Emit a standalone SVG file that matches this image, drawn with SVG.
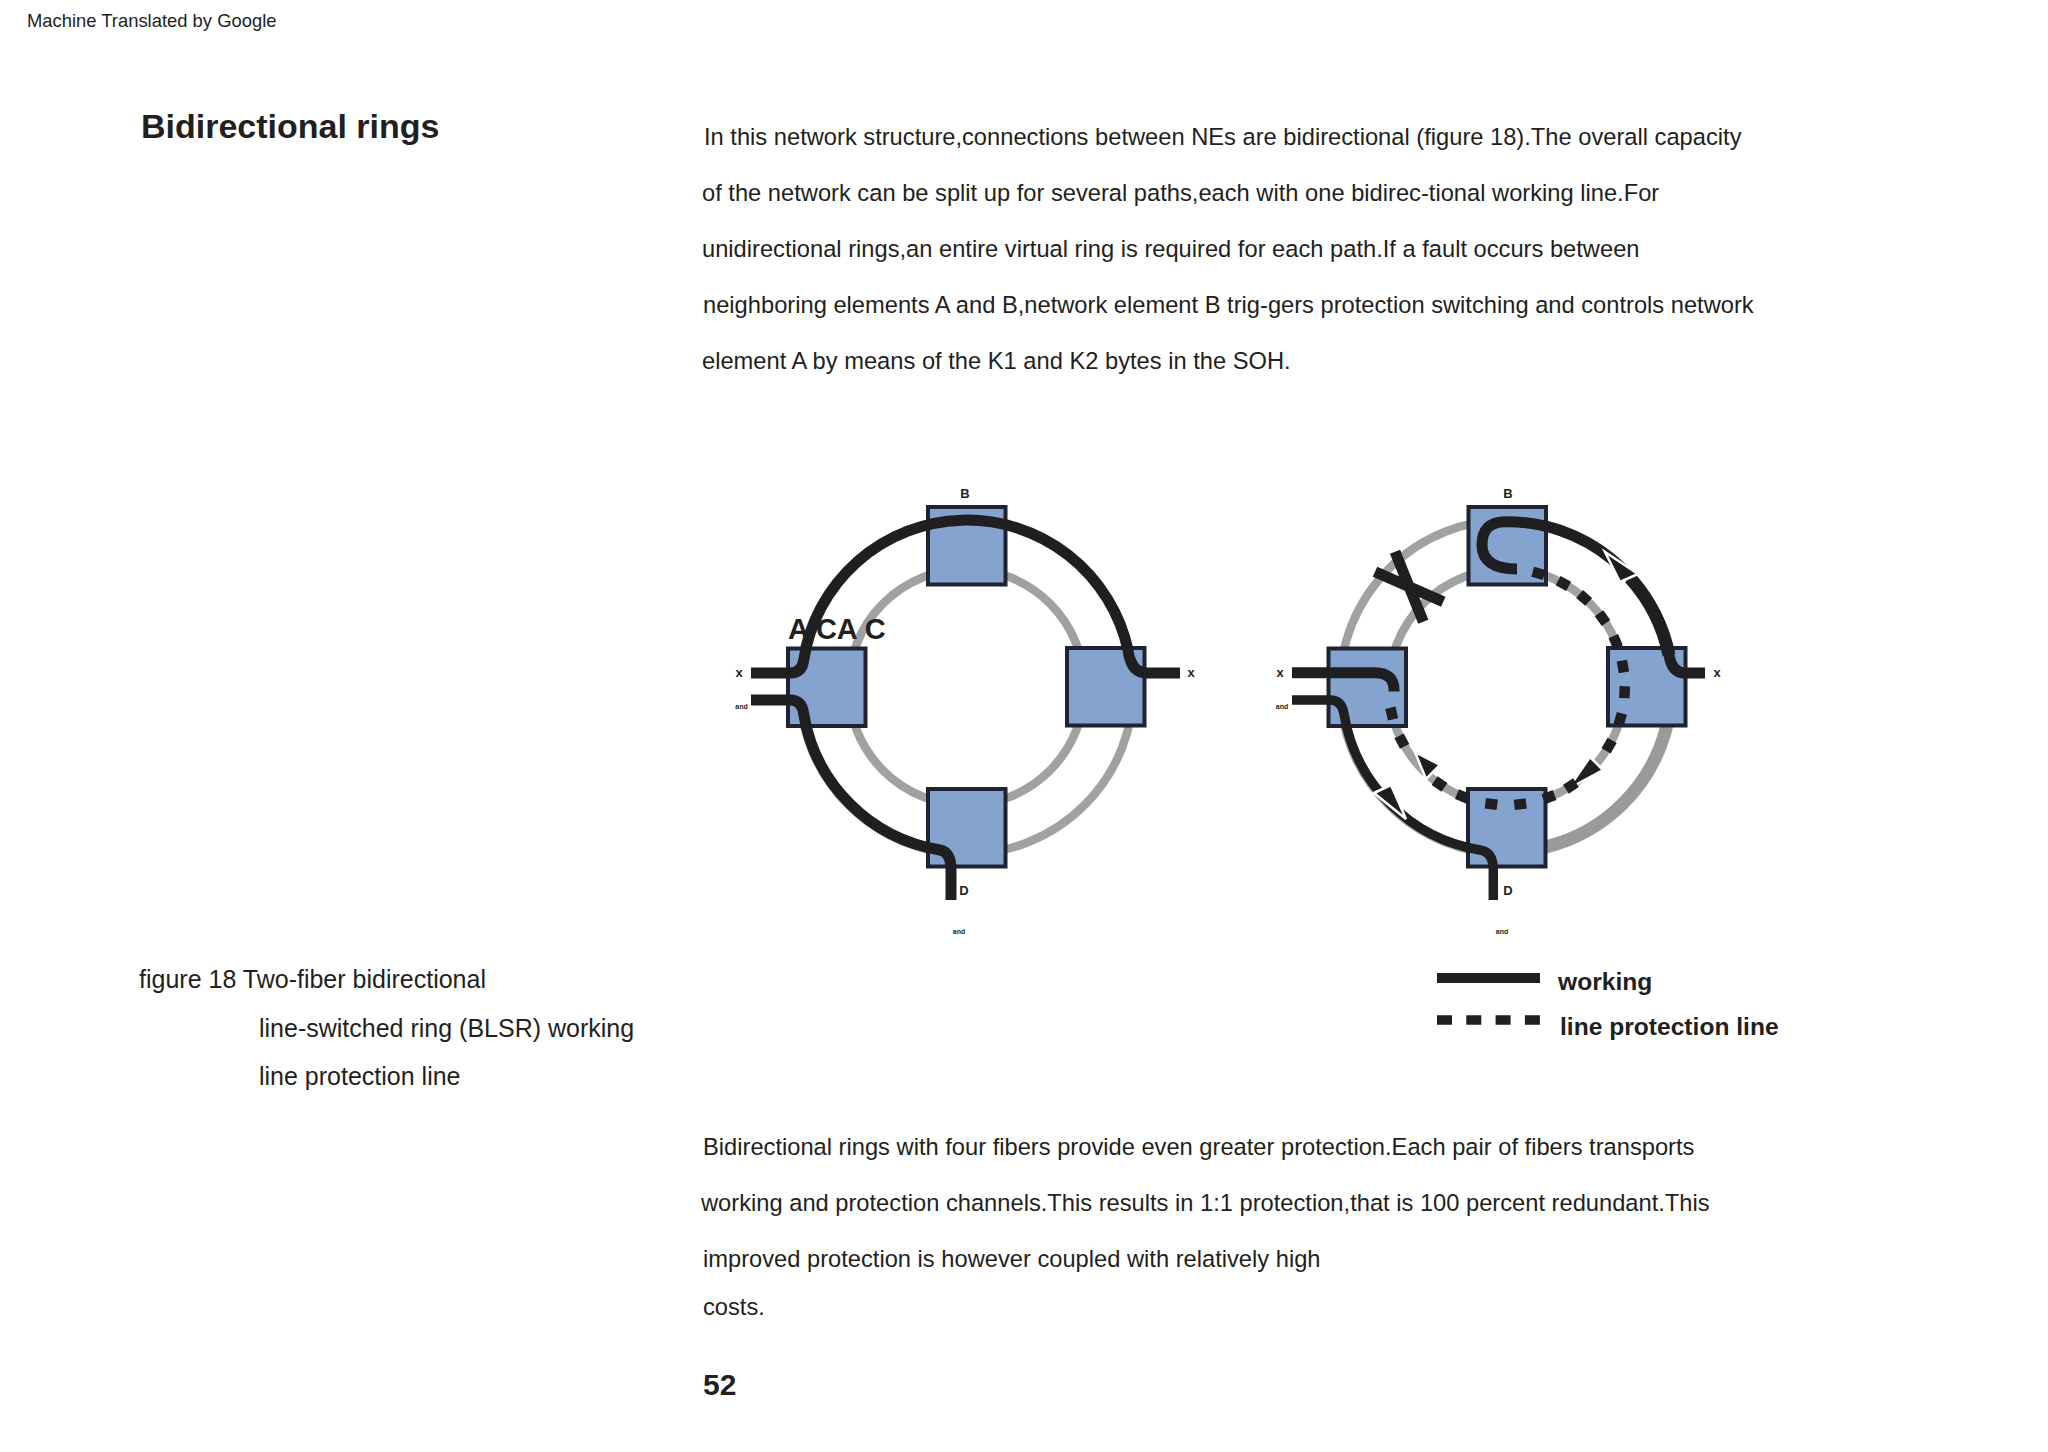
<svg xmlns="http://www.w3.org/2000/svg" width="2048" height="1452" viewBox="0 0 2048 1452">
<style>
text{font-family:"Liberation Sans",Arial,sans-serif;fill:#231f20}
.b{font-size:23.7px}
.f{font-size:25px}
.lab{font-size:13px;font-weight:bold;text-anchor:middle}
.sm{font-size:7px;font-weight:bold;text-anchor:middle}
.leg{font-size:24.600px;font-weight:bold}
.box{fill:#85a3cf;stroke:#1f2230;stroke-width:4}
.g{fill:none;stroke:#a0a2a2;stroke-width:8.500}
.w{fill:none;stroke:#1f1f22;stroke-width:11}
.d{stroke:#1f1f22;stroke-width:10.500;fill:none}
.ah{fill:#1f1f22;stroke:#fff;stroke-width:2.500}
</style>
<defs><line id="ds" class="d" x1="1500.700" y1="569" x2="1512.700" y2="569"/></defs>
<rect width="2048" height="1452" fill="#fff"/>
<text x="27" y="27" font-size="18.400">Machine Translated by Google</text>
<text x="141" y="138" font-size="34" font-weight="bold">Bidirectional rings</text>
<text class="b" x="704" y="145">In this network structure,connections between NEs are bidirectional (figure 18).The overall capacity</text>
<text class="b" x="702" y="201">of the network can be split up for several paths,each with one bidirec-tional working line.For</text>
<text class="b" x="702" y="257">unidirectional rings,an entire virtual ring is required for each path.If a fault occurs between</text>
<text class="b" x="703" y="313">neighboring elements A and B,network element B trig-gers protection switching and controls network</text>
<text class="b" x="702" y="369">element A by means of the K1 and K2 bytes in the SOH.</text>
<text class="f" x="139" y="988">figure 18 Two-fiber bidirectional</text>
<text class="f" x="259" y="1037">line-switched ring (BLSR) working</text>
<text class="f" x="259" y="1085">line protection line</text>
<text class="b" x="703" y="1155">Bidirectional rings with four fibers provide even greater protection.Each pair of fibers transports</text>
<text class="b" x="701" y="1211">working and protection channels.This results in 1:1 protection,that is 100 percent redundant.This</text>
<text class="b" x="703" y="1267">improved protection is however coupled with relatively high</text>
<text class="b" x="703" y="1315">costs.</text>
<text x="703" y="1395" font-size="30" font-weight="bold">52</text>

<g id="rings">
<circle class="g" cx="966.500" cy="687" r="167"/>
<circle class="g" cx="966.500" cy="687" r="118"/>
<circle class="g" cx="1506.700" cy="687" r="167"/>
<circle class="g" cx="1506.700" cy="687" r="118"/>
<path d="M1547 846 A164 164 0 0 0 1666 727" fill="none" stroke="#999b9b" stroke-width="12"/>
</g>

<g id="node-left-B"><rect class="box" x="928" y="507" width="77.500" height="77.500"/><text class="lab" x="965" y="498">B</text></g>
<g id="node-left-A"><rect class="box" x="788" y="648.500" width="77.500" height="77.500"/><text class="lab" x="739" y="677">x</text><text class="sm" x="741.500" y="709">and</text></g>
<g id="node-left-C"><rect class="box" x="1067" y="648" width="77.500" height="77.500"/><text class="lab" x="1191" y="677">x</text></g>
<g id="node-left-D"><rect class="box" x="928" y="789" width="77.500" height="77.500"/><text class="lab" x="964" y="895">D</text><text class="sm" x="959" y="934">and</text></g>
<g id="node-right-B"><rect class="box" x="1468.500" y="507" width="77.500" height="77.500"/><text class="lab" x="1508" y="498">B</text></g>
<g id="node-right-A"><rect class="box" x="1328.500" y="648.500" width="77.500" height="77.500"/><text class="lab" x="1280" y="677">x</text><text class="sm" x="1282" y="709">and</text></g>
<g id="node-right-C"><rect class="box" x="1608" y="648" width="77.500" height="77.500"/><text class="lab" x="1717" y="677">x</text></g>
<g id="node-right-D"><rect class="box" x="1468" y="789" width="77.500" height="77.500"/><text class="lab" x="1508" y="895">D</text><text class="sm" x="1502" y="934">and</text></g>

<g id="connectors">
<path class="w" d="M751 673 H790 Q802 673 803.700 660 A165 165 0 0 1 1128 650 Q1131 673 1147 673 H1180"/>
<path class="w" d="M751 700 H790 Q802 700 803.700 714 A165 165 0 0 0 940 850 Q951 852 951 870 V900"/>
<path class="w" d="M1705 673 H1685 Q1672 673 1669 655 A165 165 0 0 0 1506.700 521.700 H1505 Q1482 522 1482 545 Q1482 569 1517 569"/>
<path class="w" style="stroke-width:13" d="M1669 655 A165 165 0 0 0 1630 578"/>
<path class="w" d="M1292 672.700 H1375 Q1394 673 1394 690 V691.500"/>
<path class="w" style="stroke-width:9.500" d="M1292 700 H1330 Q1342 700 1344 714 A165 165 0 0 0 1480 850 Q1493.300 852 1493.300 870 V900"/>
<polygon class="ah" points="1620,582 1638,574 1605,552"/>
<polygon class="ah" points="1374,793 1391,785 1406,819"/>
<polygon class="ah" points="1590,757 1603,770 1568,789"/>
<polygon class="ah" points="1426,779 1440,765 1415,752"/>
<use href="#ds" transform="rotate(15.600 1506.700 687)"/>
<use href="#ds" transform="rotate(28.700 1506.700 687)"/>
<use href="#ds" transform="rotate(41 1506.700 687)"/>
<use href="#ds" transform="rotate(54.300 1506.700 687)"/>
<use href="#ds" transform="rotate(67.400 1506.700 687)"/>
<use href="#ds" transform="rotate(80 1506.700 687)"/>
<use href="#ds" transform="rotate(92.500 1506.700 687)"/>
<use href="#ds" transform="rotate(105.800 1506.700 687)"/>
<use href="#ds" transform="rotate(119.800 1506.700 687)"/>
<use href="#ds" transform="rotate(147 1506.700 687)"/>
<use href="#ds" transform="rotate(159 1506.700 687)"/>
<use href="#ds" transform="rotate(173.400 1506.700 687)"/>
<use href="#ds" transform="rotate(187.500 1506.700 687)"/>
<use href="#ds" transform="rotate(202 1506.700 687)"/>
<use href="#ds" transform="rotate(214.700 1506.700 687)"/>
<use href="#ds" transform="rotate(242.700 1506.700 687)"/>
<use href="#ds" transform="rotate(257 1506.700 687)"/>
<path class="w" d="M1395 551.700 L1423.300 621.700 M1375 571.700 L1443.300 601.700"/>
</g>
<text x="788" y="639" font-size="29" font-weight="bold" xml:space="preserve">A CA C</text>
<g id="legend">
<rect x="1437" y="973" width="103" height="10" fill="#1f1f22"/>
<path d="M1437 1020 H1540" stroke="#1f1f22" stroke-width="9.500" stroke-dasharray="15 14.300"/>
<text class="leg" x="1558" y="990">working</text>
<text class="leg" x="1560" y="1035">line protection line</text>
</g>
</svg>
